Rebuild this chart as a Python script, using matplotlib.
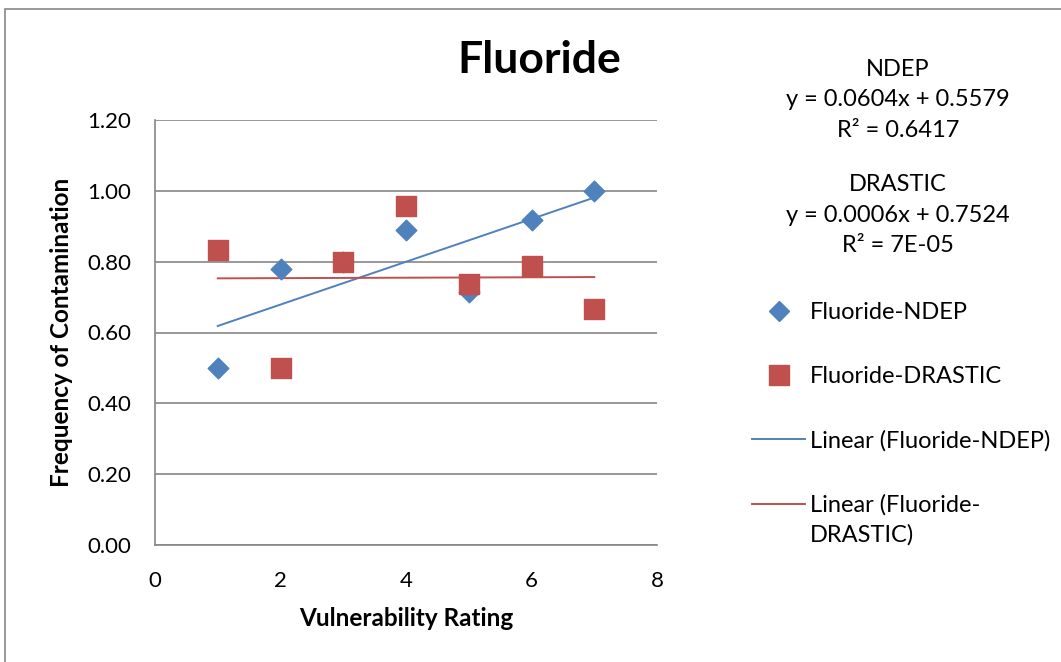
import numpy as np
import matplotlib.pyplot as plt
from matplotlib.lines import Line2D
from matplotlib.patches import Rectangle

plt.rcParams['font.family'] = ['Lato', 'DejaVu Sans']

rating = [1, 2, 3, 4, 5, 6, 7]
ndep = [0.50, 0.778, 0.80, 0.889, 0.714, 0.917, 1.00]
drastic = [0.833, 0.50, 0.80, 0.957, 0.737, 0.789, 0.667]
yticks = [0.0, 0.2, 0.4, 0.6, 0.8, 1.0, 1.2]
xticks = [0, 2, 4, 6, 8]

blue = '#4f81bd'
red = '#c0504d'
grid_col = '#868686'

fig = plt.figure(figsize=(10.61, 6.62), dpi=100)
ax = fig.add_axes([155/1061, 117/662, 502/1061, 425/662])

# outer chart frame (only left/top edges visible)
fig.patches.append(Rectangle((5/1061, -0.1), 1.2, 0.1 + (662-9)/662,
                             transform=fig.transFigure, fill=False,
                             edgecolor='#888888', lw=1.2))

ax.scatter(rating, ndep, marker='D', s=110, color=blue, zorder=3)
ax.scatter(rating, drastic, marker='s', s=210, color=red, zorder=3)

x = np.array(rating)
p1 = np.polyfit(x, ndep, 1)
p2 = np.polyfit(x, drastic, 1)
ax.plot(x[[0, -1]], np.polyval(p1, x[[0, -1]]), color=blue, lw=1.4, zorder=2)
ax.plot(x[[0, -1]], np.polyval(p2, x[[0, -1]]), color=red, lw=1.4, zorder=2)

ax.set_xlim(0, 8)
ax.set_ylim(0, 1.2)
ax.set_xticks(xticks)
ax.set_yticks(yticks)
ax.set_yticklabels(['%.2f' % v for v in yticks])
ax.tick_params(length=0, labelsize=16)
ax.tick_params(axis='x', pad=19)
ax.tick_params(axis='y', pad=17)
ax.yaxis.grid(True, color=grid_col, lw=1.2)
ax.set_axisbelow(True)
for s in ['top', 'right']:
    ax.spines[s].set_visible(False)
for s in ['left', 'bottom']:
    ax.spines[s].set_color(grid_col)
    ax.spines[s].set_linewidth(1.2)

ax.set_xlabel('Vulnerability Rating', fontsize=17.5, fontweight='bold', labelpad=11)
ax.set_ylabel('Frequency of Contamination', fontsize=17.5, fontweight='bold', labelpad=10)
fig.text(539/1061, 1 - 60/662, 'Fluoride', fontsize=32, fontweight='bold',
         ha='center', va='center')

eq_x = 898/1061
fig.text(eq_x, 1 - 100/662, 'NDEP\ny = 0.0604x + 0.5579\nR² = 0.6417',
         ha='center', va='center', fontsize=17, linespacing=1.55)
fig.text(eq_x, 1 - 215/662, 'DRASTIC\ny = 0.0006x + 0.7524\nR² = 7E-05',
         ha='center', va='center', fontsize=17, linespacing=1.55)

handles = [
    Line2D([], [], marker='D', ls='none', color=blue, markersize=10.5),
    Line2D([], [], marker='s', ls='none', color=red, markersize=14),
    Line2D([], [], color=blue, lw=1.4),
    Line2D([], [], color=red, lw=1.4),
]
labels = ['Fluoride-NDEP', 'Fluoride-DRASTIC', 'Linear (Fluoride-NDEP)',
          'Linear (Fluoride-']
leg = fig.legend(handles, labels, loc='upper left', bbox_to_anchor=(752/1061, 1 - 302/662),
                 frameon=False, fontsize=17, handlelength=2.25, handletextpad=0.2,
                 labelspacing=1.82, borderpad=0, borderaxespad=0)
# second line of the wrapped last legend label
fig.canvas.draw()
ax.annotate('DRASTIC)', xy=(0, 0), xycoords=leg.get_texts()[-1],
            xytext=(0, -6), textcoords='offset points', va='top', ha='left',
            fontsize=17, annotation_clip=False)

fig.savefig('out.png', dpi=100)
